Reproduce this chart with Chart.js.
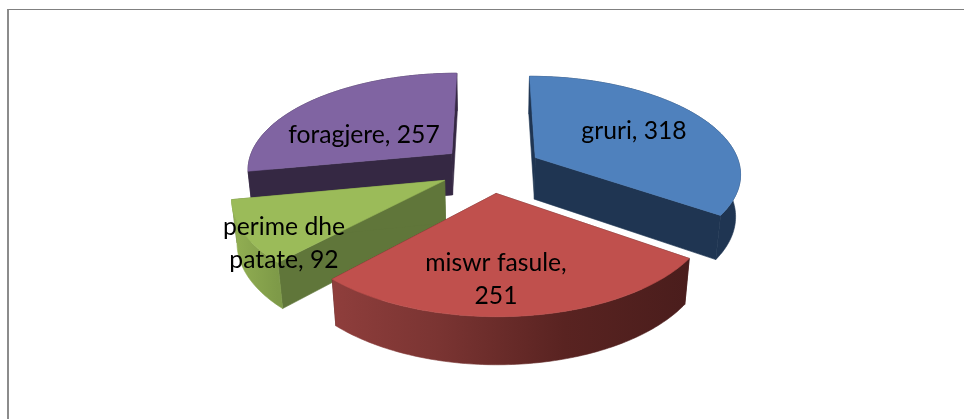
<!DOCTYPE html>
<html><head><meta charset="utf-8">
<script src="https://cdn.jsdelivr.net/npm/chart.js@4"></script>
<style>
html,body{margin:0;padding:0;background:#fff;width:964px;height:419px;overflow:hidden}
#frame{position:absolute;left:7px;top:9px;right:0;bottom:0;border-left:2px solid #8c8c8c;border-top:1px solid #808080}
canvas{position:absolute;left:0;top:0}
</style></head>
<body><div id="frame"></div><canvas id="c" width="964" height="419"></canvas>
<script>
const categories = ["gruri", "miswr fasule", "perime dhe patate", "foragjere"];
const values = [318, 251, 92, 257];
const labelLines = [["gruri, 318"], ["miswr fasule,", "251"], ["perime dhe", "patate, 92"], ["foragjere, 257"]];
const topColors = ["#4F81BD", "#C0504D", "#9BBB59", "#8064A2"];
const wallColors = ["#1F3552", "#4D1F1E", "#60763A", "#352843"];
const arcWallStops = [
  [[0, "#1F3552"], [1, "#1F3552"]],
  [[0, "#8F3E3C"], [0.3, "#7A3432"], [0.65, "#592321"], [1, "#4A1D1C"]],
  [[0, "#93B053"], [1, "#7E9A48"]],
  [[0, "#352843"], [1, "#352843"]]
];
const labelAnchors = [[634, 131], [496, 280], [284, 244], [364, 135]];
const drawOrder = [3, 0, 2, 1];

const pieView = {
  xScale: 1.372, yScale: 0.644, perspective: 0.15, converge: 0.02, depth: 43,
  project(arc, ux, uy, z) {
    const R = arc.outerRadius, w = 1 - this.perspective * uy + this.converge * z;
    return [arc.x + R * this.xScale * ux / w, arc.y + (R * this.yScale * uy + this.depth * z) / w];
  }
};

function poly(ctx, pts, fill) {
  ctx.beginPath();
  pts.forEach((p, i) => i ? ctx.lineTo(p[0], p[1]) : ctx.moveTo(p[0], p[1]));
  ctx.closePath();
  ctx.fillStyle = fill; ctx.strokeStyle = fill; ctx.lineWidth = 0.6;
  ctx.fill(); ctx.stroke();
}

const pie3d = {
  id: "pie3d",
  beforeDatasetDraw(chart, args) {
    const ctx = chart.ctx, arcs = chart.getDatasetMeta(args.index).data;
    drawOrder.forEach(i => {
      const arc = arcs[i], e = arc.options.offset / arc.outerRadius;
      const mid = (arc.startAngle + arc.endAngle) / 2;
      const ox = Math.cos(mid) * e, oy = Math.sin(mid) * e;
      const rim = [];
      const n = Math.ceil((arc.endAngle - arc.startAngle) * 180 / Math.PI);
      for (let k = 0; k <= n; k++) {
        const a = arc.startAngle + (arc.endAngle - arc.startAngle) * k / n;
        rim.push([ox + Math.cos(a), oy + Math.sin(a)]);
      }
      const P = (u, z) => pieView.project(arc, u[0], u[1], z);
      const apex = [ox, oy], first = rim[0], last = rim[rim.length - 1];
      poly(ctx, [P(apex, 0), P(first, 0), P(first, 1), P(apex, 1)], wallColors[i]);
      poly(ctx, [P(apex, 0), P(last, 0), P(last, 1), P(apex, 1)], wallColors[i]);
      const front = rim.filter(u => Math.sin(Math.atan2(u[1] - oy, u[0] - ox)) > -0.2);
      const xs = front.map(u => P(u, 0)[0]);
      const grad = ctx.createLinearGradient(Math.min(...xs), 0, Math.max(...xs), 0);
      arcWallStops[i].forEach(s => grad.addColorStop(s[0], s[1]));
      poly(ctx, rim.map(u => P(u, 0)).concat(rim.slice().reverse().map(u => P(u, 1))), grad);
      poly(ctx, [P(apex, 0)].concat(rim.map(u => P(u, 0))), topColors[i]);
    });
    return false;
  },
  afterDraw(chart) {
    const ctx = chart.ctx;
    ctx.save();
    ctx.font = "24.7px Lato, Carlito, sans-serif";
    ctx.fillStyle = "#000";
    ctx.textAlign = "center"; ctx.textBaseline = "middle";
    labelLines.forEach((lines, i) => {
      const [x, y] = labelAnchors[i], h = 33;
      lines.forEach((t, k) => ctx.fillText(t, x, y + (k - (lines.length - 1) / 2) * h));
    });
    ctx.restore();
  }
};

new Chart(document.getElementById("c"), {
  type: "pie",
  data: { labels: categories, datasets: [{ data: values, backgroundColor: topColors, borderWidth: 0, offset: 37.45 }] },
  options: {
    responsive: false, animation: false,
    layout: { padding: { left: 17, bottom: 82 } },
    plugins: { legend: { display: false }, tooltip: { enabled: false } }
  },
  plugins: [pie3d]
});
</script>
</body></html>
